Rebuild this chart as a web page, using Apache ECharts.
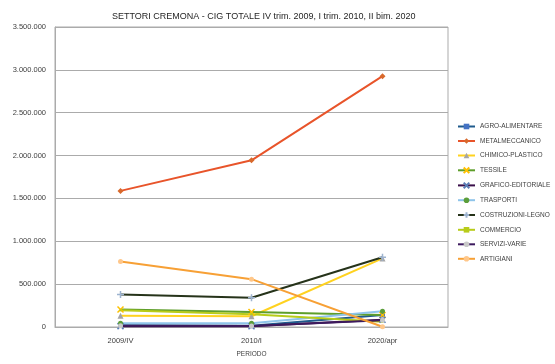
<!DOCTYPE html>
<html><head><meta charset="utf-8">
<script src="https://cdn.jsdelivr.net/npm/echarts@6/dist/echarts.min.js"></script>
<style>html,body{margin:0;padding:0;background:#fff}#c{width:555px;height:364px}</style>
</head><body><div id="c"></div>
<script>
const categories = ['2009/IV', '2010/I', '2020/apr'];
const seriesNames = ['AGRO-ALIMENTARE','METALMECCANICO','CHIMICO-PLASTICO','TESSILE','GRAFICO-EDITORIALE','TRASPORTI','COSTRUZIONI-LEGNO','COMMERCIO','SERVIZI-VARIE','ARTIGIANI'];
const agroAlimentare   = [20000, 15000, 140000];
const metalmeccanico   = [1588000, 1945000, 2926000];
const chimicoPlastico  = [130000, 125000, 800000];
const tessile          = [205000, 175000, 140000];
const graficoEditoriale= [10000, 8000, 85000];
const trasporti        = [45000, 45000, 185000];
const costruzioniLegno = [379000, 341000, 814000];
const commercio        = [195000, 150000, 60000];
const serviziVarie     = [15000, 12000, 78000];
const artigiani        = [763000, 558000, 3000];
const yTicks = [0, 500000, 1000000, 1500000, 2000000, 2500000, 3000000, 3500000];

const values = [agroAlimentare, metalmeccanico, chimicoPlastico, tessile, graficoEditoriale, trasporti, costruzioniLegno, commercio, serviziVarie, artigiani];
const lineColors = ['#1F5A8C','#E8542A','#FFD21F','#5E9E2A','#3A0F4A','#8EC4EA','#26331A','#B8CC1A','#3D1A5E','#F7A035'];
const markerColors = ['#4472C4','#D8692C','#A5A5A5','#FFC000','#5B7DB5','#5C9E3A','#9DB3CF','#B8CC1A','#C9C9C9','#FFC78A'];
const markers = ['rect','diamond','triangle','path://M0,0L10,10M10,0L0,10','path://M0,0L10,10M10,0L0,10','circle','path://M5,0L5,10M0,5L10,5','rect','circle','circle'];
const markerSizes = [5,6,6,6,6,5,7,2,5,5];

function fmt(v){ return String(v).replace(/\B(?=(\d{3})+(?!\d))/g, '.'); }

const chart = echarts.init(document.getElementById('c'), null, {renderer:'canvas'});
const FONT = 'Liberation Sans';
chart.setOption({
  animation: false,
  textStyle: {fontFamily: FONT},
  title: {
    text: 'SETTORI CREMONA - CIG TOTALE IV trim. 2009, I trim. 2010, II bim. 2020',
    left: 107, top: 7,
    textStyle: {fontFamily: FONT, fontSize: 9, fontWeight: 'normal', color: '#262626'}
  },
  legend: {
    orient: 'vertical', left: 452, top: 118,
    itemWidth: 17, itemHeight: 7, itemGap: 7.5,
    textStyle: {fontFamily: FONT, fontSize: 6.5, color: '#404040'},
    data: seriesNames
  },
  grid: {left: 55, right: 107, top: 27, bottom: 37, show: true, borderColor: '#ABABAB', borderWidth: 1, outerBoundsMode: 'none', containLabel: false},
  xAxis: {
    type: 'category', data: categories, boundaryGap: true,
    name: 'PERIODO', nameLocation: 'middle', nameGap: 24,
    nameTextStyle: {fontFamily: FONT, fontSize: 6.5, color: '#404040'},
    axisLine: {lineStyle: {color: '#ABABAB'}},
    axisTick: {show: false},
    axisLabel: {fontFamily: FONT, fontSize: 7.5, color: '#404040', margin: 10}
  },
  yAxis: {
    type: 'value', min: yTicks[0], max: yTicks[yTicks.length-1], interval: yTicks[1]-yTicks[0],
    name: 'ORE', nameLocation: 'middle', nameGap: 44, nameRotate: 90,
    nameTextStyle: {fontFamily: FONT, fontSize: 6.5, color: '#404040'},
    axisLine: {show: true, lineStyle: {color: '#ABABAB'}},
    axisTick: {show: false},
    splitLine: {lineStyle: {color: '#ABABAB'}},
    axisLabel: {fontFamily: FONT, fontSize: 7.5, color: '#404040', margin: 9, formatter: fmt}
  },
  series: seriesNames.map((n, i) => ({
    name: n, type: 'line', data: values[i],
    symbol: markers[i], symbolSize: markerSizes[i],
    lineStyle: {width: 2, color: lineColors[i]},
    itemStyle: {color: markerColors[i], borderColor: markerColors[i], borderWidth: markers[i].startsWith('path') ? 1.5 : 0},
    color: lineColors[i]
  }))
});
</script></body></html>
